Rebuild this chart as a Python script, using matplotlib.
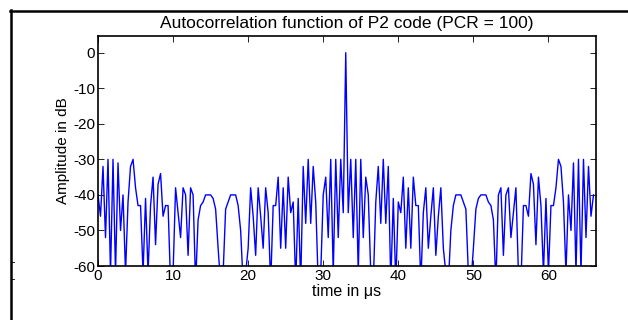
import numpy as np
import matplotlib.pyplot as plt
from matplotlib.lines import Line2D

# autocorrelation of the P2 code in dB, one sample every 1/3 us
amp_db = [
    -40, -46, -32, -52, -30, -62, -30, -62, -31, -50,
    -40, -62, -42, -32, -30, -38, -43, -43, -62, -41,
    -62, -43, -35, -54, -37, -34, -46, -43, -43, -65,
    -62, -38, -45, -52, -38, -40, -57, -38, -40, -65,
    -47, -43, -42, -40, -40, -40, -41, -44, -55, -65,
    -62, -44, -42, -40, -40, -40, -43, -50, -65, -62,
    -55, -38, -46, -57, -38, -46, -55, -38, -45, -65,
    -43, -43, -35, -55, -38, -55, -35, -45, -42, -65,
    -41, -65, -32, -48, -30, -48, -32, -42, -65, -62,
    -40, -35, -52, -30, -62, -30, -52, -30, -45,
    0,
    -45, -30, -52, -30, -62, -30, -52, -35, -40,
    -62, -65, -42, -32, -48, -30, -48, -32, -65, -41,
    -65, -42, -45, -35, -55, -38, -55, -35, -43, -43,
    -65, -45, -38, -55, -46, -38, -57, -46, -38, -55,
    -62, -65, -50, -43, -40, -40, -40, -42, -44, -62,
    -65, -55, -44, -41, -40, -40, -40, -42, -43, -47,
    -65, -40, -38, -57, -40, -38, -52, -45, -38, -62,
    -65, -43, -43, -46, -34, -37, -54, -35, -43, -62,
    -41, -62, -43, -43, -38, -30, -32, -42, -62, -40,
    -50, -31, -62, -30, -62, -30, -52, -32, -46, -40,
]
time_us = np.arange(len(amp_db)) / 3.0

x_ticks = [0, 10, 20, 30, 40, 50, 60]
y_ticks = [-60, -50, -40, -30, -20, -10, 0]

plt.rcParams["font.family"] = ["Liberation Sans", "DejaVu Sans"]
plt.rcParams["axes.unicode_minus"] = False

fig = plt.figure(figsize=(6.28, 3.2), dpi=100)
ax = fig.add_axes([98 / 628, 1 - 266 / 320, (596 - 98) / 628, (266 - 36) / 320])

ax.plot(time_us, amp_db, color="blue", linewidth=1.0)
ax.set_xlim(0, 199 / 3)
ax.set_ylim(-60, 4.7)
ax.set_xticks(x_ticks)
ax.set_yticks(y_ticks)
ax.tick_params(direction="in", length=4, width=0.6, top=True, right=True,
               labelsize=11, pad=2)
for s in ax.spines.values():
    s.set_linewidth(1.2)

ax.set_title("Autocorrelation function of P2 code (PCR = 100)", fontsize=12.5, pad=6)
ax.set_xlabel("time in \u03bcs", fontsize=11.5, labelpad=1)
ax.set_ylabel("Amplitude in dB", fontsize=11, labelpad=2)

# frame of the surrounding page
fig.add_artist(Line2D([10 / 628, 1], [1 - 11 / 320, 1 - 11 / 320], color="black", linewidth=1.8))
fig.add_artist(Line2D([11 / 628, 11 / 628], [0, 1 - 10 / 320], color="black", linewidth=1.8))
for yy in (262, 279):
    fig.add_artist(Line2D([11 / 628, 14 / 628], [1 - yy / 320, 1 - yy / 320], color="black", linewidth=0.6))

fig.savefig("out.png", dpi=100)
